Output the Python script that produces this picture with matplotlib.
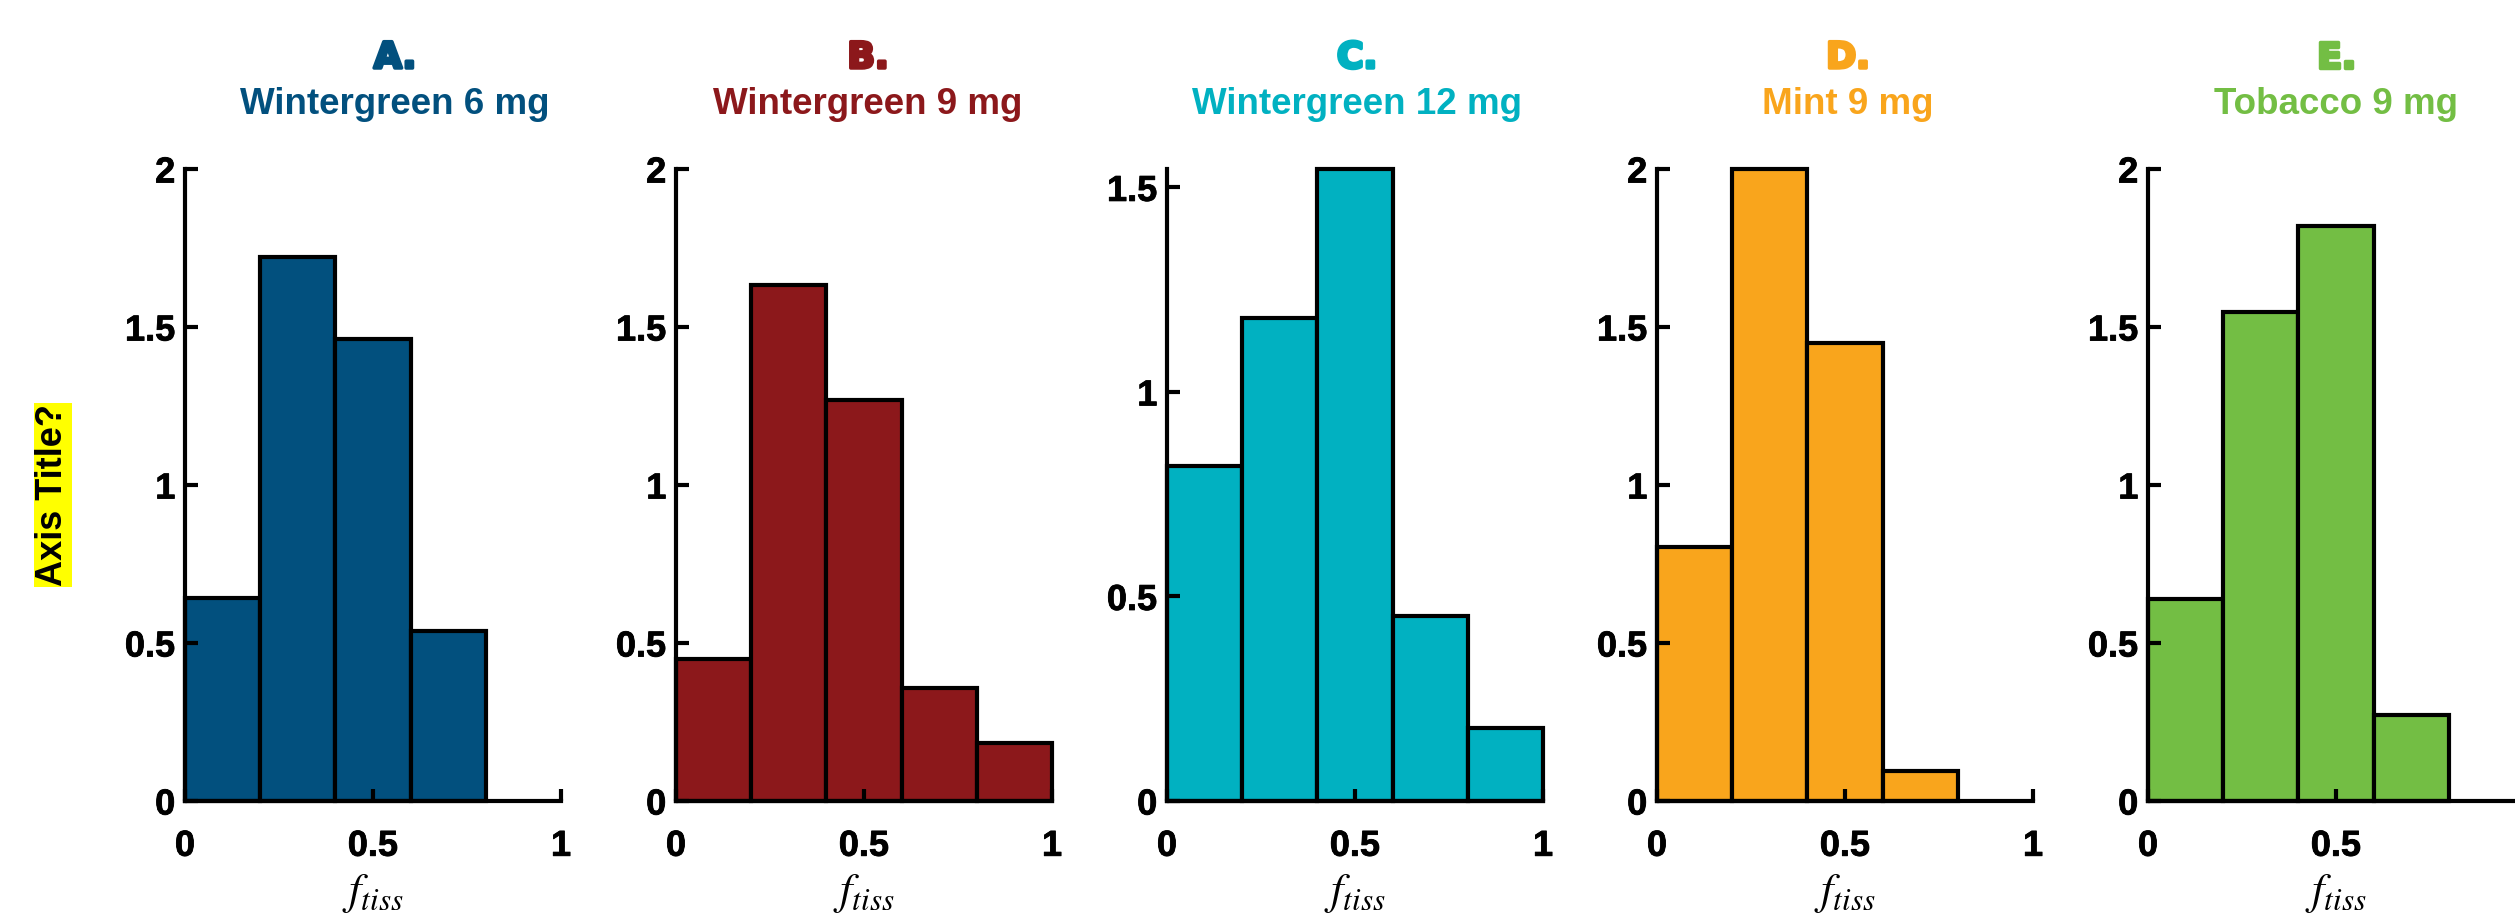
import numpy as np
import matplotlib.pyplot as plt
import matplotlib.patheffects as pe

# bin edges shared by every panel
bin_left = [0.0, 0.2, 0.4, 0.6, 0.8]
bin_width = 0.2

letters = ["A.", "B.", "C.", "D.", "E."]
names = ["Wintergreen 6 mg", "Wintergreen 9 mg", "Wintergreen 12 mg", "Mint 9 mg", "Tobacco 9 mg"]
colors = ["#02507E", "#8C181B", "#01B1C1", "#F9A51C", "#73BE44"]

# (probability density per bin)
dens_a = [0.643, 1.722, 1.462, 0.538]
dens_b = [0.45, 1.634, 1.27, 0.358, 0.182]
dens_c = [0.82, 1.18, 1.545, 0.452, 0.178]
dens_d = [0.804, 2.0, 1.45, 0.095]
dens_e = [0.64, 1.548, 1.82, 0.272]
all_dens = [dens_a, dens_b, dens_c, dens_d, dens_e]

y_tops = [2, 2, 1.545, 2, 2]
y_ticks = [[0, 0.5, 1, 1.5, 2], [0, 0.5, 1, 1.5, 2], [0, 0.5, 1, 1.5],
           [0, 0.5, 1, 1.5, 2], [0, 0.5, 1, 1.5, 2]]
x_ticks = [0, 0.5, 1]

W, H = 2515, 919
fig = plt.figure(figsize=(W / 100, H / 100), dpi=100)
plt.rcParams['mathtext.fontset'] = 'stix'

lefts_px = [185, 676, 1167, 1657, 2148]
title_dx = [22, 4, 2, 3, 0]
ax_w_px = 376
ax_bot_px, ax_top_px = 801, 169

tick_font = dict(family='Liberation Sans', weight='bold', size=26)
heavy = [pe.withStroke(linewidth=0.6, foreground='black')]

for i in range(5):
    ax = fig.add_axes([lefts_px[i] / W, 1 - ax_bot_px / H, ax_w_px / W, (ax_bot_px - ax_top_px) / H])
    dens = all_dens[i]
    ax.bar(bin_left[:len(dens)], dens, width=bin_width, align='edge',
           color=colors[i], edgecolor='black', linewidth=3.0, clip_on=False)
    ax.set_xlim(0, 1)
    ax.set_ylim(0, y_tops[i])
    ax.set_xticks(x_ticks)
    ax.set_xticklabels(["%g" % t for t in x_ticks], fontdict=tick_font)
    ax.set_yticks(y_ticks[i])
    ax.set_yticklabels(["%g" % t for t in y_ticks[i]], fontdict=tick_font)
    for lab in ax.get_xticklabels() + ax.get_yticklabels():
        lab.set_path_effects(heavy)
    ax.spines['top'].set_visible(False)
    ax.spines['right'].set_visible(False)
    for s in ['left', 'bottom']:
        ax.spines[s].set_linewidth(3.0)
    ax.tick_params(axis='both', direction='in', length=9, width=3.0)
    ax.tick_params(axis='x', pad=20)
    ax.tick_params(axis='y', pad=7)
    ax.set_xlabel(r'$f_{tiss}$', fontsize=32, labelpad=6)

    cx = (lefts_px[i] + ax_w_px / 2 + title_dx[i]) / W
    t = fig.text(cx, 1 - 68 / H, letters[i], ha='center', va='baseline',
                 color=colors[i], fontsize=26, fontweight='bold', family='DejaVu Sans')
    t.set_path_effects([pe.withStroke(linewidth=2.5, foreground=colors[i])])
    fig.text(cx, 1 - 114 / H, names[i], ha='center', va='baseline',
             color=colors[i], fontsize=26.5, fontweight='bold', family='Liberation Sans')

fig.text(53 / W, 1 - 495 / H, "Axis Title?", rotation=90, ha='center', va='center',
         fontsize=26, fontweight='bold', family='Liberation Sans',
         bbox=dict(facecolor='#FFFF00', edgecolor='none', pad=1))

fig.savefig("out.png", dpi=100)
